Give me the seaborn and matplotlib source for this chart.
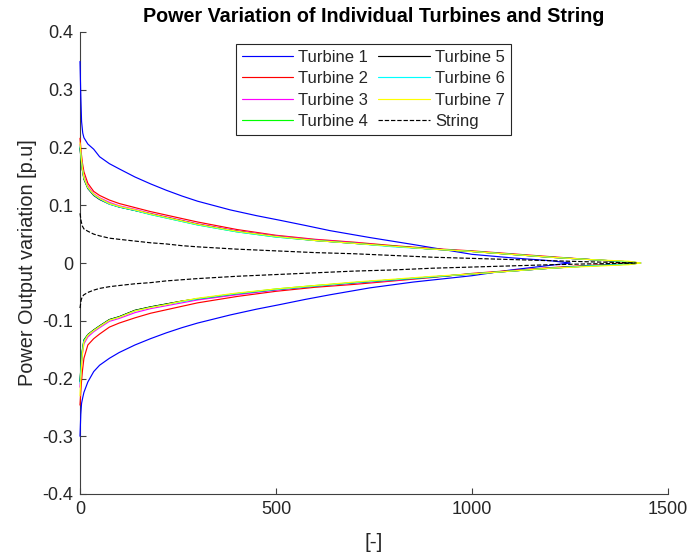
import numpy as np
import pandas as pd
import matplotlib
matplotlib.use("Agg")
import matplotlib.pyplot as plt
import seaborn as sns

# ---------------- data ----------------
series_names = ["Turbine 1", "Turbine 2", "Turbine 3", "Turbine 4",
                "Turbine 5", "Turbine 6", "Turbine 7", "String"]

# Turbine 1
x_t1 = [0, 2, 4, 7, 10, 20, 35, 50, 75, 100, 140, 180, 220, 260, 300, 383,
        450, 510, 575, 638, 740, 850, 1000, 1100, 1200, 1250]
up_t1 = [0.349, 0.29, 0.245, 0.225, 0.217, 0.206, 0.197, 0.184, 0.172, 0.163, 0.149,
         0.137, 0.126, 0.116, 0.107, 0.092, 0.082, 0.074, 0.065, 0.056, 0.044,
         0.032, 0.015, 0.009, 0.004, 0.0]
lo_t1 = [-0.300, -0.262, -0.243, -0.233, -0.224, -0.206, -0.188, -0.177, -0.165,
         -0.155, -0.142, -0.131, -0.121, -0.112, -0.104, -0.090, -0.080, -0.072,
         -0.063, -0.055, -0.043, -0.033, -0.022, -0.012, -0.004, 0.0]

# shared grid for turbines 2-7
x_grid = [0, 3, 6, 10, 20, 35, 50, 75, 100, 140, 180, 220, 260, 300, 400, 500,
          600, 700, 800, 900, 1000, 1100, 1200, 1300, 1400, 1430]

up_t2 = [0.216, 0.192, 0.174, 0.158, 0.138, 0.124, 0.117, 0.109, 0.103, 0.096, 0.089,
         0.083, 0.077, 0.071, 0.058, 0.048, 0.041, 0.036, 0.030, 0.025, 0.021,
         0.016, 0.011, 0.006, 0.001, 0.0]
lo_t2 = [-0.246, -0.212, -0.188, -0.165, -0.142, -0.131, -0.123, -0.111, -0.104,
         -0.095, -0.087, -0.081, -0.075, -0.069, -0.058, -0.049, -0.042, -0.037,
         -0.031, -0.025, -0.018, -0.013, -0.008, -0.004, -0.001, 0.0]

up_t3 = [0.205, 0.183, 0.166, 0.150, 0.133, 0.120, 0.113, 0.105, 0.099, 0.093, 0.086,
         0.080, 0.074, 0.068, 0.056, 0.047, 0.040, 0.035, 0.029, 0.024, 0.020,
         0.015, 0.010, 0.006, 0.002, 0.0]
lo_t3 = [-0.215, -0.183, -0.158, -0.140, -0.128, -0.119, -0.112, -0.101, -0.096,
         -0.086, -0.079, -0.074, -0.069, -0.064, -0.055, -0.047, -0.040, -0.035,
         -0.030, -0.024, -0.019, -0.014, -0.009, -0.005, -0.002, 0.0]

up_t4 = [0.200, 0.179, 0.162, 0.147, 0.130, 0.118, 0.111, 0.103, 0.097, 0.091, 0.084,
         0.078, 0.072, 0.066, 0.054, 0.045, 0.039, 0.034, 0.029, 0.024, 0.020,
         0.015, 0.010, 0.006, 0.002, 0.0]
lo_t4 = [-0.205, -0.174, -0.150, -0.133, -0.124, -0.116, -0.109, -0.098, -0.093,
         -0.082, -0.076, -0.071, -0.066, -0.062, -0.053, -0.045, -0.039, -0.034,
         -0.029, -0.024, -0.019, -0.014, -0.009, -0.005, -0.002, 0.0]

up_t5 = [0.199, 0.178, 0.161, 0.145, 0.129, 0.117, 0.110, 0.102, 0.097, 0.091, 0.085,
         0.079, 0.073, 0.067, 0.055, 0.046, 0.039, 0.034, 0.029, 0.024, 0.020,
         0.015, 0.010, 0.006, 0.002, 0.0]
lo_t5 = [-0.205, -0.175, -0.152, -0.134, -0.124, -0.116, -0.109, -0.098, -0.093,
         -0.082, -0.076, -0.071, -0.066, -0.062, -0.053, -0.046, -0.040, -0.034,
         -0.029, -0.024, -0.019, -0.014, -0.009, -0.005, -0.002, 0.0]

up_t6 = [0.202, 0.180, 0.163, 0.147, 0.130, 0.118, 0.111, 0.102, 0.097, 0.091, 0.084,
         0.078, 0.072, 0.066, 0.054, 0.045, 0.039, 0.034, 0.028, 0.024, 0.020,
         0.015, 0.010, 0.006, 0.002, 0.0]
lo_t6 = [-0.208, -0.177, -0.154, -0.135, -0.125, -0.117, -0.110, -0.099, -0.094,
         -0.083, -0.077, -0.072, -0.067, -0.062, -0.053, -0.046, -0.040, -0.034,
         -0.029, -0.024, -0.019, -0.014, -0.009, -0.005, -0.002, 0.0]

up_t7 = [0.208, 0.183, 0.164, 0.148, 0.131, 0.119, 0.112, 0.103, 0.098, 0.092, 0.085,
         0.079, 0.073, 0.067, 0.055, 0.046, 0.039, 0.034, 0.029, 0.024, 0.020,
         0.015, 0.010, 0.006, 0.003, 0.0]
lo_t7 = [-0.230, -0.188, -0.158, -0.137, -0.125, -0.117, -0.110, -0.099, -0.094,
         -0.083, -0.077, -0.072, -0.066, -0.061, -0.052, -0.045, -0.039, -0.033,
         -0.028, -0.023, -0.019, -0.014, -0.009, -0.006, -0.003, 0.0]

x_str = [0, 3, 6, 10, 20, 35, 50, 75, 100, 140, 180, 220, 260, 300, 400, 500,
         600, 700, 800, 900, 1000, 1100, 1200, 1300, 1400, 1420]
up_str = [0.086, 0.072, 0.064, 0.059, 0.055, 0.050, 0.047, 0.043, 0.041, 0.038, 0.035,
          0.033, 0.030, 0.028, 0.024, 0.021, 0.018, 0.016, 0.013, 0.010, 0.008,
          0.006, 0.004, 0.002, 0.0005, 0.0]
lo_str = [-0.078, -0.064, -0.058, -0.055, -0.051, -0.047, -0.044, -0.041, -0.039,
          -0.036, -0.034, -0.031, -0.029, -0.027, -0.023, -0.020, -0.017, -0.014,
          -0.012, -0.009, -0.007, -0.005, -0.003, -0.0015, -0.0005, 0.0]

colors = ["#0000FF", "#FF0000", "#FF00FF", "#00FF00",
          "#000000", "#00FFFF", "#FFFF00", "#000000"]

yticks = [-0.4, -0.3, -0.2, -0.1, 0, 0.1, 0.2, 0.3, 0.4]
ytick_labels = ["-0.4", "-0.3", "-0.2", "-0.1", "0", "0.1", "0.2", "0.3", "0.4"]
xticks = [0, 500, 1000, 1500]
xtick_labels = ["0", "500", "1000", "1500"]

# ---------------- build long table ----------------
curves = {
    "Turbine 1": (x_t1, up_t1, lo_t1),
    "Turbine 2": (x_grid, up_t2, lo_t2),
    "Turbine 3": (x_grid, up_t3, lo_t3),
    "Turbine 4": (x_grid, up_t4, lo_t4),
    "Turbine 5": (x_grid, up_t5, lo_t5),
    "Turbine 6": (x_grid, up_t6, lo_t6),
    "Turbine 7": (x_grid, up_t7, lo_t7),
    "String": (x_str, up_str, lo_str),
}
rows = []
for name, (xs, ups, los) in curves.items():
    for xv, yv in zip(xs, ups):
        rows.append((name, "upper", xv, yv))
    for xv, yv in zip(xs, los):
        rows.append((name, "lower", xv, yv))
df = pd.DataFrame(rows, columns=["series", "branch", "x", "y"])

# ---------------- plot ----------------
sns.set_theme(style="white")
plt.rcParams["font.family"] = ["Liberation Sans", "DejaVu Sans"]

fig = plt.figure(figsize=(6.88, 5.55), dpi=100)
ax = fig.add_axes([80 / 688, 61 / 555, 588 / 688, 462 / 555])

for name, col in zip(series_names, colors):
    sub = df[df["series"] == name]
    ls = "--" if name == "String" else "-"
    for i, br in enumerate(["upper", "lower"]):
        part = sub[sub["branch"] == br]
        sns.lineplot(data=part, x="x", y="y", ax=ax, color=col, linewidth=0.85,
                     linestyle=ls, sort=False, estimator=None, zorder=3,
                     clip_on=False,
                     label=name if i == 0 else None, legend=False)

ax.set_xlim(0, 1500)
ax.set_ylim(-0.4, 0.4)
ax.set_xticks(xticks)
ax.set_xticklabels(xtick_labels)
ax.set_yticks(yticks)
ax.set_yticklabels(ytick_labels)

axcol = "#404040"
for s in ["top", "right"]:
    ax.spines[s].set_visible(False)
for s in ["left", "bottom"]:
    ax.spines[s].set_color(axcol)
    ax.spines[s].set_linewidth(0.8)
ax.tick_params(axis="both", direction="in", length=4, width=0.8, color=axcol,
               labelsize=13, labelcolor="#262626", left=True, bottom=True, pad=5)

ax.set_xlabel("[-]", fontsize=15, color="#262626", labelpad=11)
ax.set_ylabel("Power Output variation [p.u]", fontsize=14.3, color="#262626", labelpad=4)
ax.set_title("Power Variation of Individual Turbines and String", fontsize=14.2,
             fontweight="bold", color="black", pad=7)

handles, labels = ax.get_legend_handles_labels()
leg = ax.legend(handles, labels, ncol=2, loc="upper left",
                bbox_to_anchor=(0.2653, 0.974), borderaxespad=0,
                fontsize=12, frameon=True,
                fancybox=False, edgecolor="#262626", framealpha=1,
                handlelength=3.1, columnspacing=0.6, labelspacing=0.38,
                borderpad=0.35, handletextpad=0.3)
leg.get_frame().set_linewidth(0.8)

fig.savefig("out.png", dpi=100)
